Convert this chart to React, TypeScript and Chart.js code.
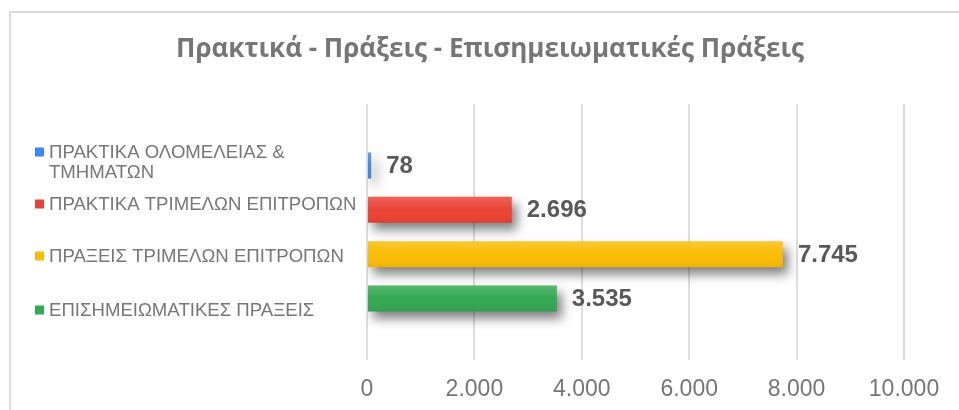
import React, { useEffect, useRef } from "react";
import { Chart, registerables } from "chart.js";

Chart.register(...registerables);

const TITLE = "Πρακτικά - Πράξεις - Επισημειωματικές Πράξεις";
const CATEGORIES = [""];
const SERIES_NAMES: string[][] = [
  ["ΠΡΑΚΤΙΚΑ ΟΛΟΜΕΛΕΙΑΣ &", "ΤΜΗΜΑΤΩΝ"],
  ["ΠΡΑΚΤΙΚΑ ΤΡΙΜΕΛΩΝ ΕΠΙΤΡΟΠΩΝ"],
  ["ΠΡΑΞΕΙΣ ΤΡΙΜΕΛΩΝ ΕΠΙΤΡΟΠΩΝ"],
  ["ΕΠΙΣΗΜΕΙΩΜΑΤΙΚΕΣ ΠΡΑΞΕΙΣ"],
];
const SERIES_VALUES = [78, 2696, 7745, 3535];
const SERIES_COLORS = ["#4285f4", "#ea4335", "#fbbc04", "#34a853"];
const X_MIN = 0;
const X_MAX = 10000;
const X_STEP = 2000;

const fmt = (v: number) => String(v).replace(/\B(?=(\d{3})+(?!\d))/g, ".");

// legend line centres (y, px)
const LEGEND_Y: number[][] = [[152, 172], [204], [256], [310]];

export default function App() {
  const ref = useRef<HTMLCanvasElement | null>(null);

  useEffect(() => {
    document.body.style.margin = "0";
    const canvas = ref.current;
    if (!canvas) return;

    const shadowPlugin = {
      id: "shadowPlugin",
      beforeDatasetsDraw(chart: any) {
        const ctx = chart.ctx;
        ctx.save();
        ctx.shadowColor = "rgba(0,0,0,0.5)";
        ctx.shadowBlur = 11;
        ctx.shadowOffsetX = 5;
        ctx.shadowOffsetY = 7;
      },
      afterDatasetsDraw(chart: any) {
        const ctx = chart.ctx;
        ctx.restore();
        // subtle gloss on each bar
        chart.data.datasets.forEach((_d: any, i: number) => {
          const meta = chart.getDatasetMeta(i);
          meta.data.forEach((el: any) => {
            const h = el.height;
            const top = el.y - h / 2;
            const left = Math.min(el.base, el.x);
            const w = Math.abs(el.x - el.base);
            const g = ctx.createLinearGradient(0, top, 0, top + h);
            g.addColorStop(0, "rgba(255,255,255,0.18)");
            g.addColorStop(0.5, "rgba(255,255,255,0.0)");
            g.addColorStop(1, "rgba(0,0,0,0.06)");
            ctx.save();
            ctx.fillStyle = g;
            ctx.fillRect(left, top, w, h);
            ctx.restore();
          });
        });
      },
    };

    const labelsPlugin = {
      id: "labelsPlugin",
      afterDraw(chart: any) {
        const ctx = chart.ctx;
        ctx.save();
        // value labels
        ctx.font = "bold 24px 'Liberation Sans', Arial, sans-serif";
        ctx.fillStyle = "#595959";
        ctx.textAlign = "left";
        ctx.textBaseline = "middle";
        chart.data.datasets.forEach((d: any, i: number) => {
          const meta = chart.getDatasetMeta(i);
          meta.data.forEach((el: any, j: number) => {
            ctx.fillText(fmt(d.data[j]), el.x + 15, el.y + 1);
          });
        });
        // title
        ctx.font = "bold 26px 'Open Sans', sans-serif";
        ctx.fillStyle = "#767676";
        ctx.textAlign = "center";
        ctx.fillText(TITLE, 490, 50);
        // legend
        ctx.font = "18.6px 'Liberation Sans', Arial, sans-serif";
        ctx.textAlign = "left";
        chart.data.datasets.forEach((d: any, i: number) => {
          const ys = LEGEND_Y[i];
          ctx.fillStyle = d.backgroundColor;
          ctx.fillRect(35, ys[0] - 4.5, 9, 9);
          ctx.fillStyle = "#777777";
          (d.label as string[]).forEach((line: string, k: number) => {
            ctx.fillText(line, 49, ys[k] + 1);
          });
        });
        ctx.restore();
      },
    };

    const chart = new Chart(canvas, {
      type: "bar",
      data: {
        labels: CATEGORIES,
        datasets: SERIES_VALUES.map((v, i) => ({
          label: SERIES_NAMES[i] as any,
          data: [v],
          backgroundColor: SERIES_COLORS[i],
          borderWidth: 0,
          categoryPercentage: 0.692,
          barPercentage: 0.587,
        })),
      },
      options: {
        indexAxis: "y",
        animation: false,
        responsive: false,
        maintainAspectRatio: false,
        layout: { padding: { left: 367, top: 104, right: 55, bottom: 0 } },
        plugins: {
          legend: { display: false },
          title: { display: false },
          tooltip: { enabled: false },
        },
        scales: {
          x: {
            min: X_MIN,
            max: X_MAX,
            afterFit: (scale: any) => {
              scale.height = 50;
            },
            ticks: {
              stepSize: X_STEP,
              padding: 16,
              color: "#767676",
              font: { family: "'Liberation Sans', Arial, sans-serif", size: 23 },
              callback: (v: any) => fmt(Number(v)),
            },
            grid: { color: "#dedede", lineWidth: 2, drawTicks: false },
            border: { display: false },
          },
          y: { display: false },
        },
      },
      plugins: [shadowPlugin, labelsPlugin],
    });
    return () => chart.destroy();
  }, []);

  return (
    <div style={{ position: "relative", width: 959, height: 410, overflow: "hidden", background: "#fff" }}>
      <div
        style={{
          position: "absolute",
          left: 9,
          top: 11,
          width: 980,
          height: 420,
          border: "2px solid #dcdcdc",
          boxSizing: "border-box",
        }}
      />
      <canvas ref={ref} width={959} height={410} style={{ position: "absolute", left: 0, top: 0 }} />
    </div>
  );
}
